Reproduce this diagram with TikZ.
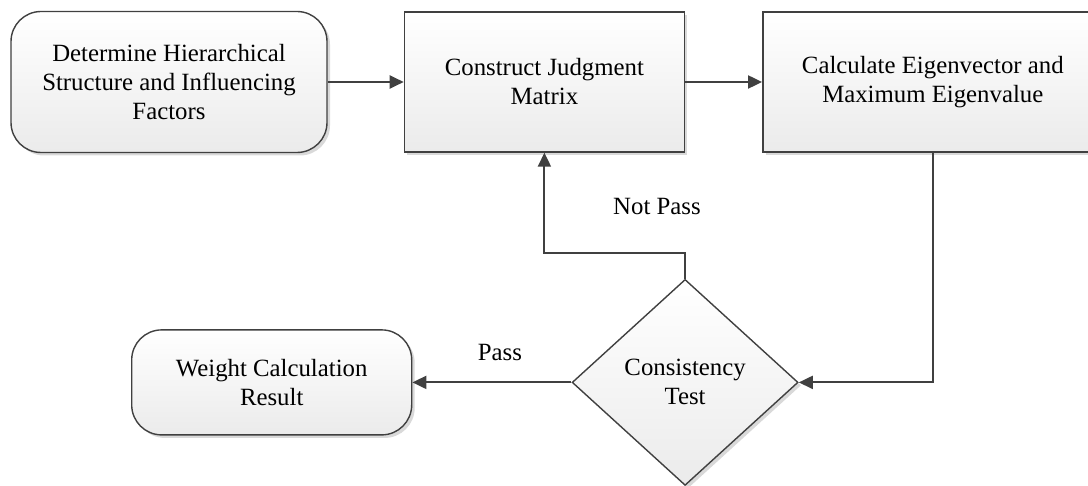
\documentclass[tikz,border=0pt]{standalone}
\usepackage{fontspec}
\setmainfont{Liberation Serif}
\usetikzlibrary{shapes,arrows.meta,positioning,shadows,calc}
\definecolor{linecol}{HTML}{404040}
\definecolor{shadecol}{HTML}{EBEBEB}
\tikzstyle{flow} = [-{Triangle[length=7pt,width=6.5pt]},linecol,line width=1pt]
\tikzstyle{tag} = [font=\fontsize{12.4}{14.5}\selectfont,text=black]
\tikzset{
  basic box/.style = {
    shape = rectangle,
    draw = linecol,
    line width = .7pt,
    align = center,
    top color = white,
    bottom color = shadecol,
    drop shadow = {opacity=.3, shadow xshift=1.5pt, shadow yshift=-1.5pt},
    font = \fontsize{12.4}{14.5}\selectfont,
    },
  step box/.style = {
    basic box,
    minimum width = #1,
    minimum height = 70pt,
    },
  rounded box/.style = {
    basic box,
    rounded corners = 15pt,
    minimum width = #1,
    },
  test box/.style = {
    basic box,
    shape = diamond,
    inner sep = 0pt,
    aspect = 1.1,
    minimum width = 113pt,
    minimum height = 103pt,
    }
}

\begin{document}
\begin{tikzpicture}
    \useasboundingbox (0,0) rectangle (544pt,-243pt);

    % top row
    \node [rounded box=158pt, minimum height=70.5pt] (hier) at (84.5pt,-41pt)
        {Determine Hierarchical\\Structure and Influencing\\Factors};
    \node [step box=140pt, right=38pt of hier] (judge) {Construct Judgment\\Matrix};
    \node [step box=170pt, right=38.5pt of judge] (eigen)
        {Calculate Eigenvector and\\Maximum Eigenvalue};

    % test and result
    \node [test box, below=63pt of judge.south east] (test) {Consistency\\Test};
    \node [rounded box=140pt, minimum height=52.5pt, left=79.5pt of test] (weight)
        {Weight Calculation\\Result};

    \coordinate (bend) at ($(test.north)+(0,13pt)$);

    % Paths
    \draw[flow] (hier) -- (judge);
    \draw[flow] (judge) -- (eigen);
    \draw[flow] (eigen.south) |- (test.east);
    \draw[flow] (test.north) -- (bend) -| node[tag,pos=.1,yshift=23pt] {Not Pass} (judge.south);
    \draw[flow] (test.west) -- node[tag,pos=.45,yshift=15pt] {Pass} (weight.east);
\end{tikzpicture}
\end{document}
